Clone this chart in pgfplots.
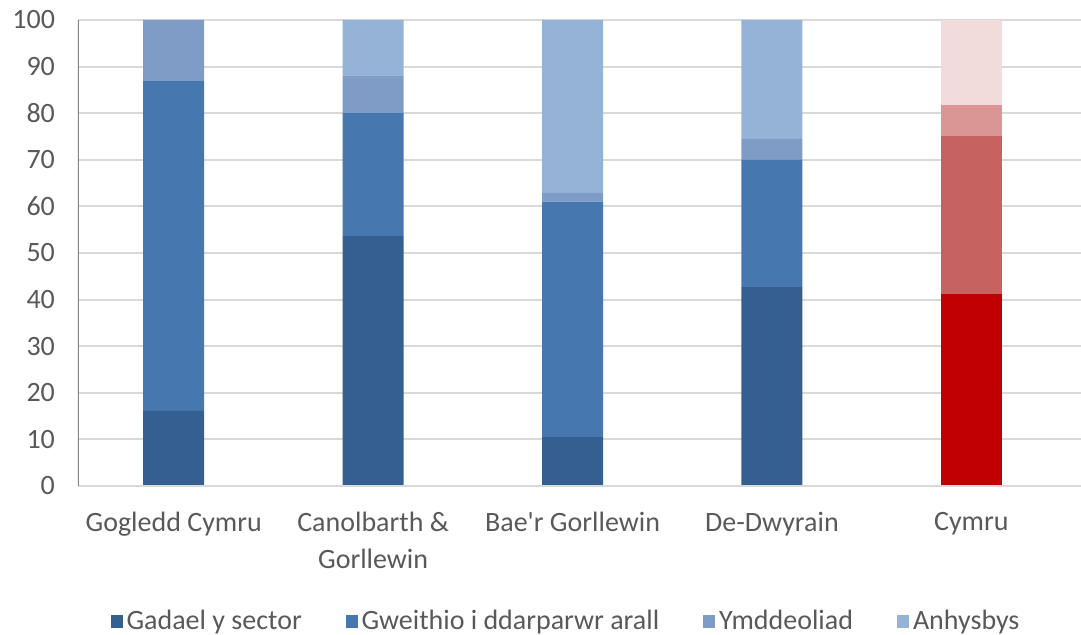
\documentclass[border=0pt]{standalone}
\usepackage{pgfplots}
\pgfplotsset{compat=1.18}
\usepackage{fontspec}
\setmainfont{Carlito}[Ligatures=TeXOff]
\definecolor{BlueA}{HTML}{355F91}
\definecolor{BlueB}{HTML}{4777AF}
\definecolor{BlueC}{HTML}{7F9CC7}
\definecolor{BlueD}{HTML}{95B3D7}
\definecolor{RedA}{HTML}{C00000}
\definecolor{RedB}{HTML}{C6625F}
\definecolor{RedC}{HTML}{D99694}
\definecolor{RedD}{HTML}{F2DCDB}
\definecolor{TxtGray}{HTML}{595959}
\definecolor{GridGray}{HTML}{D9D9D9}
\definecolor{AxisGray}{HTML}{868686}
\begin{document}
\begin{tikzpicture}
\begin{axis}[
  scale only axis,
  width=501.5pt, height=233pt,
  ybar stacked, bar width=0.306,
  xmin=-0.48, xmax=4.55, ymin=0, ymax=100,
  xtick={0,1,2,3,4},
  xticklabels={Gogledd Cymru, {Canolbarth \&\\Gorllewin}, Bae'r Gorllewin, De-Dwyrain, Cymru},
  xticklabel style={align=center, font=\fontsize{14}{18.5}\selectfont, text=TxtGray, yshift=-9.5pt},
  ytick={0,10,...,100},
  yticklabel style={font=\fontsize{14}{17}\selectfont, text=TxtGray, xshift=-8pt},
  /pgf/number format/assume math mode=true,
  major tick length=0pt,
  ymajorgrids, grid style={GridGray, line width=1pt},
  axis line style={draw=none},
  axis x line*=bottom, axis y line*=left,
  legend columns=4,
  legend style={draw=none, fill=none, at={(0.4875,-0.29)}, anchor=center,
    font=\fontsize{14}{17}\selectfont, text=TxtGray,
    /tikz/every even column/.append style={column sep=20pt}},
  legend image code/.code={\fill[#1] (0pt,-3.2pt) rectangle (6pt,3.2pt);},
]
\addplot[fill=BlueA, draw=none] coordinates {(0,16.1) (1,53.6) (2,10.5) (3,42.7)};
\addlegendentry{Gadael y sector}
\addplot[fill=BlueB, draw=none] coordinates {(0,70.8) (1,26.4) (2,50.5) (3,27.3)};
\addlegendentry{Gweithio i ddarparwr arall}
\addplot[fill=BlueC, draw=none] coordinates {(0,13.1) (1,8.1) (2,1.9) (3,4.5)};
\addlegendentry{Ymddeoliad}
\addplot[fill=BlueD, draw=none] coordinates {(0,0) (1,11.9) (2,37.1) (3,25.5)};
\addlegendentry{Anhysbys}
\end{axis}
\begin{axis}[
  scale only axis,
  width=501.5pt, height=233pt,
  ybar stacked, bar width=0.306,
  xmin=-0.48, xmax=4.55, ymin=0, ymax=100,
  axis lines=none, ticks=none,
]
\addplot[fill=RedA, draw=none] coordinates {(4,41.1)};
\addplot[fill=RedB, draw=none] coordinates {(4,34.0)};
\addplot[fill=RedC, draw=none] coordinates {(4,6.6)};
\addplot[fill=RedD, draw=none] coordinates {(4,18.3)};
\end{axis}
\begin{axis}[
  scale only axis,
  width=501.5pt, height=233pt,
  xmin=-0.48, xmax=4.55, ymin=0, ymax=100,
  axis lines=none, ticks=none,
]
\addplot[color=GridGray, line width=1pt] coordinates {(-0.48,0) (4.55,0)};
\addplot[color=AxisGray, line width=1.1pt] coordinates {(-0.48,0) (-0.48,100)};
\end{axis}
\pgfresetboundingbox
\path[use as bounding box] ([shift={(-39pt,-74.5pt)}]current axis.south west)
  rectangle ([shift={(0pt,10pt)}]current axis.north east);
\end{tikzpicture}
\end{document}
